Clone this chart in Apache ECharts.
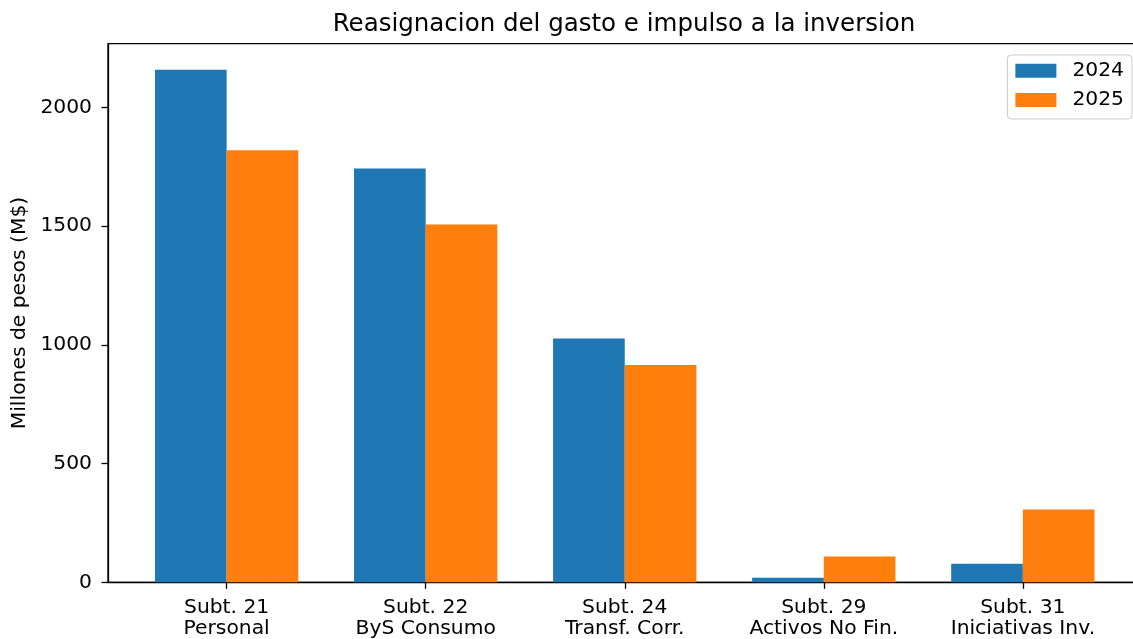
<!DOCTYPE html>
<html>
<head>
<meta charset="utf-8">
<script src="https://cdn.jsdelivr.net/npm/echarts@6/dist/echarts.min.js"></script>
<style>
html,body{margin:0;padding:0;background:#fff;}
#chart{width:1133px;height:639px;}
</style>
</head>
<body>
<div id="chart"></div>
<script>
const categories = ['Subt. 21\nPersonal', 'Subt. 22\nByS Consumo', 'Subt. 24\nTransf. Corr.', 'Subt. 29\nActivos No Fin.', 'Subt. 31\nIniciativas Inv.'];
const values2024 = [2158, 1743, 1027, 19, 78];
const values2025 = [1819, 1507, 915, 109, 307];
const yTicks = [0, 500, 1000, 1500, 2000];
const seriesNames = ['2024', '2025'];

const FONT = 'DejaVu Sans';
const FS = 20.3;
const chart = echarts.init(document.getElementById('chart'), null, {renderer: 'canvas'});
const catIdx = categories.map((c, i) => i);

chart.setOption({
  animation: false,
  backgroundColor: '#fff',
  textStyle: {fontFamily: FONT, color: '#000'},
  title: {
    text: 'Reasignacion del gasto e impulso a la inversion',
    left: 619, top: 7, textAlign: 'center',
    textStyle: {fontFamily: FONT, fontSize: 24.5, fontWeight: 'normal', color: '#000'}
  },
  legend: {
    data: seriesNames,
    orient: 'vertical',
    right: 1, top: 55,
    itemWidth: 41, itemHeight: 14, itemGap: 9.2,
    padding: [5.7, 8, 9.1, 8],
    borderColor: '#cccccc', borderWidth: 1, borderRadius: 4,
    backgroundColor: 'rgba(255,255,255,0.8)',
    selectedMode: false,
    icon: 'rect',
    textStyle: {fontFamily: FONT, fontSize: FS, color: '#000', padding: [0, 0, 0, 11]}
  },
  grid: {
    left: 108, top: 43.7, width: 1033.5, bottom: 56.7,
    outerBoundsMode: 'none',
    show: true, borderColor: '#000', borderWidth: 1.3, containLabel: false
  },
  xAxis: {
    type: 'value', min: -0.596, max: 4.596,
    splitLine: {show: false},
    axisLine: {show: true, onZero: false, lineStyle: {color: '#000', width: 1.3}},
    axisTick: {show: true, customValues: catIdx, length: 6.5, lineStyle: {color: '#000', width: 1.3}},
    axisLabel: {
      customValues: catIdx, margin: 14.5,
      formatter: v => categories[Math.round(v)] || '',
      fontFamily: FONT, fontSize: FS, color: '#000', lineHeight: 21.5
    }
  },
  yAxis: {
    type: 'value', min: 0, max: 2268, interval: 500,
    name: 'Millones de pesos (M$)', nameLocation: 'middle', nameRotate: 90, nameGap: 76,
    nameTextStyle: {fontFamily: FONT, fontSize: FS, color: '#000'},
    splitLine: {show: false},
    axisLine: {show: true, onZero: false, lineStyle: {color: '#000', width: 1.3}},
    axisTick: {show: true, customValues: yTicks, length: 6.5, lineStyle: {color: '#000', width: 1.3}},
    axisLabel: {customValues: yTicks, margin: 16, formatter: v => String(v), fontFamily: FONT, fontSize: FS, color: '#000'}
  },
  series: [
    {name: seriesNames[0], type: 'bar', barWidth: '36%', barGap: '0%',
     itemStyle: {color: '#1f77b4'}, data: values2024.map((v, i) => [i, v])},
    {name: seriesNames[1], type: 'bar', barWidth: '36%', barGap: '0%',
     itemStyle: {color: '#ff7f0e'}, data: values2025.map((v, i) => [i, v])}
  ]
});
</script>
</body>
</html>
